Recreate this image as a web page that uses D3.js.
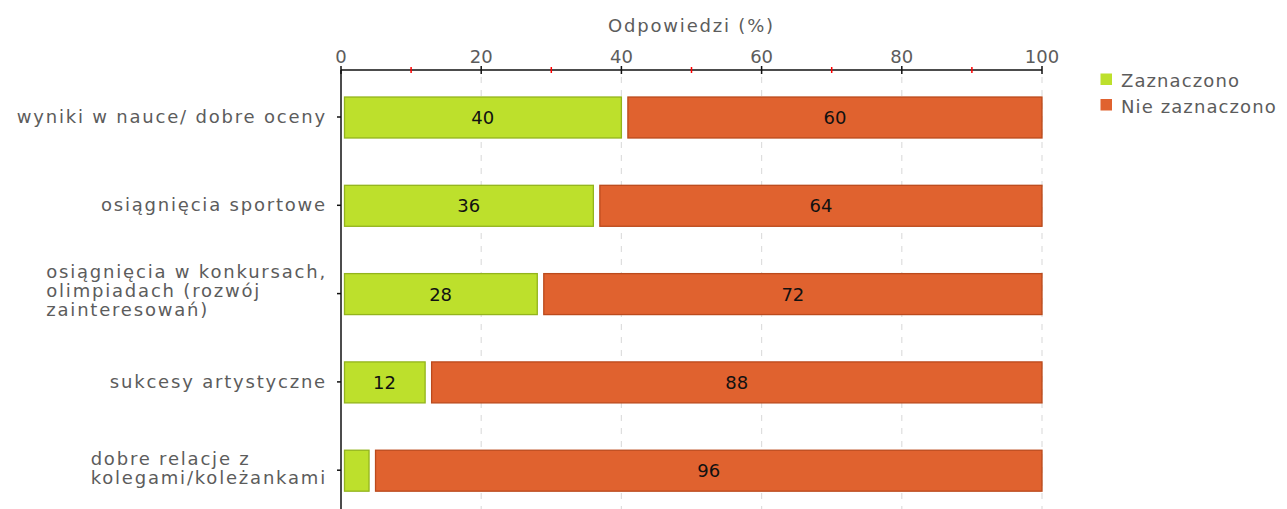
<!DOCTYPE html>
<html><head><meta charset="utf-8">
<script src="https://cdn.jsdelivr.net/npm/d3@7"></script>
<style>
body{margin:0;background:#fff;}
svg text{font-family:"DejaVu Sans",Verdana,sans-serif;}
</style>
</head><body>
<svg id="c" width="1287" height="509"></svg>
<script>
const categories = [
  ["wyniki w nauce/ dobre oceny"],
  ["osiągnięcia sportowe"],
  ["osiągnięcia w konkursach,","olimpiadach (rozwój","zainteresowań)"],
  ["sukcesy artystyczne"],
  ["dobre relacje z","kolegami/koleżankami"]
];
const zaznaczono = [40, 36, 28, 12, 4];
const nieZaznaczono = [60, 64, 72, 88, 96];
const seriesNames = ["Zaznaczono", "Nie zaznaczono"];
const majorTicks = [0, 20, 40, 60, 80, 100];
const minorTicks = [10, 30, 50, 70, 90];
const axisTitle = "Odpowiedzi (%)";

const svg = d3.select("#c");
const x = d3.scaleLinear().domain([0,100]).range([341,1042]);
const y = d3.scaleBand().domain(d3.range(categories.length)).range([72.85,514.35]).paddingInner(0.536).paddingOuter(0.268);
const axisY = 70;
const textCol = "#5c5c5c";
const fs = 18;
const ls = "1.8px";

// grid
svg.append("g").selectAll("line").data(majorTicks.filter(d=>d>0)).join("line")
  .attr("x1",d=>x(d)).attr("x2",d=>x(d)).attr("y1",axisY+7).attr("y2",509)
  .attr("stroke","#dedede").attr("stroke-width",1.2).attr("stroke-dasharray","6,7");

// bars
const g = svg.append("g");
categories.forEach((c,i)=>{
  const yy = y(i), h = y.bandwidth();
  const a = zaznaczono[i], b = nieZaznaczono[i];
  g.append("rect").attr("x",x(0)+3.5).attr("y",yy+0.5).attr("width",x(a)-x(0)-3.5).attr("height",h)
    .attr("fill","#bde02c").attr("stroke","#93b41c").attr("stroke-width",1.3);
  g.append("rect").attr("x",x(a)+6.5).attr("y",yy+0.5).attr("width",x(100)-x(a)-6.5).attr("height",h)
    .attr("fill","#e0622f").attr("stroke","#bb4a1c").attr("stroke-width",1.3);
  if (a >= 8) g.append("text").attr("x",(x(0)+3+x(a))/2).attr("y",yy+h/2+7).attr("text-anchor","middle")
    .attr("font-size",fs).attr("fill","#111").text(a);
  g.append("text").attr("x",(x(a)+6.5+x(100))/2).attr("y",yy+h/2+7).attr("text-anchor","middle")
    .attr("font-size",fs).attr("fill","#111").text(b);
});

// top axis
const ax = svg.append("g");
ax.append("line").attr("x1",x(0)).attr("x2",x(100)).attr("y1",axisY).attr("y2",axisY).attr("stroke","#111").attr("stroke-width",1.5);
ax.selectAll(".maj").data(majorTicks).join("line").attr("x1",d=>x(d)).attr("x2",d=>x(d))
  .attr("y1",axisY-4).attr("y2",axisY+4).attr("stroke","#111").attr("stroke-width",1.5);
ax.selectAll(".min").data(minorTicks).join("line").attr("x1",d=>x(d)).attr("x2",d=>x(d))
  .attr("y1",axisY-3).attr("y2",axisY+3).attr("stroke","#f00").attr("stroke-width",1.5);
ax.selectAll("text").data(majorTicks).join("text").attr("x",d=>x(d)).attr("y",63)
  .attr("text-anchor","middle").attr("font-size",fs).attr("fill",textCol).text(d=>d);
svg.append("text").attr("x",x(50)).attr("y",32).attr("text-anchor","middle")
  .attr("font-size",fs).attr("letter-spacing",ls).attr("fill",textCol).text(axisTitle);

// left axis
svg.append("line").attr("x1",x(0)).attr("x2",x(0)).attr("y1",axisY).attr("y2",509).attr("stroke","#111").attr("stroke-width",1.5);
categories.forEach((c,i)=>{
  const cy = y(i)+y.bandwidth()/2;
  svg.append("line").attr("x1",x(0)-4).attr("x2",x(0)).attr("y1",cy).attr("y2",cy).attr("stroke","#111").attr("stroke-width",1.5);
  const lh = 19;
  const t = svg.append("text").attr("text-anchor","start").attr("font-size",fs)
    .attr("letter-spacing",ls).attr("fill",textCol);
  const spans = c.map((line,k)=> t.append("tspan").attr("y",cy + 6 - (c.length-1)*1.5 + (k-(c.length-1)/2)*lh).text(line));
  const maxW = d3.max(spans, s=>s.node().getComputedTextLength());
  spans.forEach(s=>s.attr("x",327 - maxW));
});

// legend
const colors = ["#bde02c","#e0622f"];
seriesNames.forEach((n,i)=>{
  svg.append("rect").attr("x",1100.5).attr("y",73.5+i*25.5).attr("width",11.5).attr("height",11.5).attr("fill",colors[i]);
  svg.append("text").attr("x",1121).attr("y",87+i*26).attr("font-size",fs).attr("letter-spacing","1.1px").attr("fill",textCol).text(n);
});
</script>
</body></html>
